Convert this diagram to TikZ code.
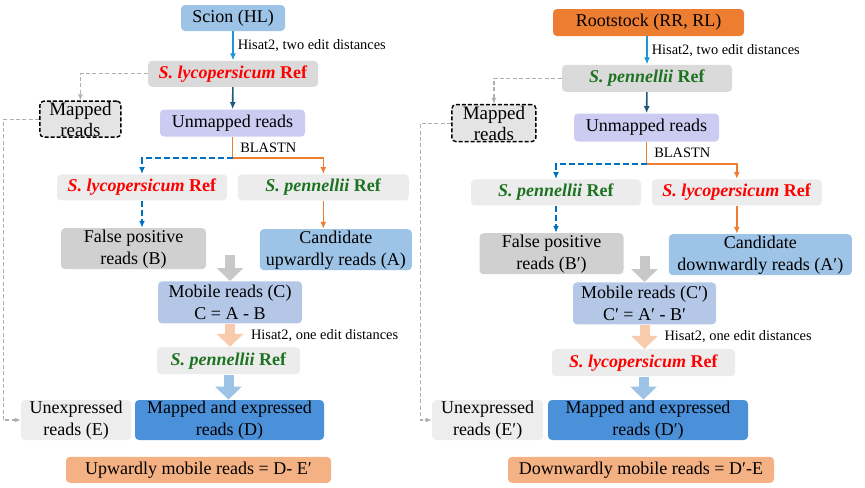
\documentclass[tikz,border=0pt]{standalone}
\usepackage{fontspec}
\setmainfont{Liberation Serif}
\usepackage{tikz}
\usetikzlibrary{positioning,arrows.meta}
\definecolor{lightblue}{RGB}{157,195,230}
\definecolor{rootorange}{RGB}{237,125,49}
\definecolor{refgrey}{RGB}{218,218,218}
\definecolor{refpale}{RGB}{236,236,236}
\definecolor{lavender}{RGB}{204,204,242}
\definecolor{fpgrey}{RGB}{208,208,208}
\definecolor{mobblue}{RGB}{180,199,231}
\definecolor{midblue}{RGB}{75,145,218}
\definecolor{salmon}{RGB}{244,177,131}
\definecolor{palesalmon}{RGB}{248,203,173}
\definecolor{unexgrey}{RGB}{237,237,237}
\definecolor{mapgrey}{RGB}{228,228,228}
\definecolor{arrowgrey}{RGB}{200,200,200}
\definecolor{linegrey}{RGB}{175,175,175}
\definecolor{skyblue}{RGB}{30,150,215}
\definecolor{tealdark}{RGB}{31,90,125}
\definecolor{dashblue}{RGB}{0,112,192}
\definecolor{refred}{RGB}{255,0,0}
\definecolor{refgreen}{RGB}{30,115,35}
\newcommand{\lyco}{\textcolor{refred}{\textbf{\textit{S. lycopersicum}} \textbf{Ref}}}
\newcommand{\penn}{\textcolor{refgreen}{\textbf{\textit{S. pennellii}} \textbf{Ref}}}

\begin{document}
\begin{tikzpicture}[
        font=\fontsize{9}{11}\selectfont,
        box/.style={rectangle, rounded corners=2pt, fill=#1, inner xsep=1pt, inner ysep=0pt, align=center},
        mapdash/.style={draw=black, dash pattern=on 2pt off 1pt, line width=0.7pt, font=\fontsize{9.5}{10.5}\selectfont},
        lbl/.style={font=\fontsize{7.2}{8}\selectfont, inner sep=2pt},
        link/.style={draw=#1, line width=0.8pt, -{Latex[length=3.5pt,width=3pt]}},
        dashline/.style={dash pattern=on 3pt off 1.5pt},
        fat/.style={draw=#1, line width=5pt, -{Triangle[width=13pt,length=6.5pt]}},
        gline/.style={draw=linegrey, line width=0.6pt, dash pattern=on 2pt off 1.2pt, -{Latex[length=3pt,width=2.5pt]}}
    ]
        \useasboundingbox (0,0) rectangle (432.5pt,-243.5pt);

        \node[box=lightblue, minimum width=52pt, minimum height=13pt] (scion) at (116.5pt,-9pt) {Scion (HL)};
        \node[box=refgrey, minimum width=85pt, minimum height=13pt, below=14.5pt of scion] (lyref) {\lyco};
        \node[box=lavender, minimum width=72.5pt, minimum height=13.5pt, below=11pt of lyref, xshift=-0.25pt] (unmapL) {Unmapped reads};
        \node[box=mapgrey, mapdash, minimum width=40.5pt, minimum height=18pt, left=19pt of unmapL, yshift=2pt] (mappedL) {Mapped\\reads};
        \node[box=refpale, minimum width=85pt, minimum height=13pt, below=18.5pt of unmapL, xshift=-45.25pt] (lyrefL) {\lyco};
        \node[box=refpale, minimum width=85.5pt, minimum height=13pt, right=5pt of lyrefL] (pnrefL) {\penn};
        \node[box=fpgrey, minimum width=72.5pt, minimum height=20.5pt, below=13.5pt of lyrefL, xshift=-4.25pt] (falseL) {False positive\\reads (B)};
        \node[box=lightblue, minimum width=76pt, minimum height=20.5pt, below=14pt of pnrefL, xshift=6.25pt] (candL) {Candidate\\upwardly reads (A)};
        \node[box=mobblue, minimum width=72pt, minimum height=21pt, below=72pt of unmapL, xshift=-1.25pt] (mobileL) {Mobile reads (C)\\C = A - B};
        \node[box=refpale, minimum width=71.5pt, minimum height=13.5pt, below=11.5pt of mobileL, xshift=-0.75pt] (pnrefL2) {\penn};
        \node[box=midblue, minimum width=94.5pt, minimum height=20pt, below=12.5pt of pnrefL2, xshift=0.5pt] (exprL) {Mapped and expressed\\reads (D)};
        \node[box=unexgrey, minimum width=55pt, minimum height=20pt, left=1.5pt of exprL] (unexL) {Unexpressed\\reads (E)};
        \node[box=salmon, minimum width=132.5pt, minimum height=13pt, below=8pt of exprL, xshift=-15.5pt] (upL) {Upwardly mobile reads = D- E′};

        \draw[link=skyblue] (scion) -- node[lbl, right] (hisatL) {Hisat2, two edit distances} (lyref);
        \draw[link=tealdark] (lyref) -- (unmapL);
        \draw[link=rootorange] (unmapL.south) -- node[lbl, right, xshift=1.5pt] (blastL) {BLASTN} ++(0,-10.5pt) -| (pnrefL.north);
        \draw[link=dashblue, dashline] ([yshift=-10.5pt]unmapL.south) -| (lyrefL.north);
        \draw[link=dashblue, dashline] (lyrefL.south) -- (lyrefL.south |- falseL.north);
        \draw[link=rootorange] (pnrefL.south) -- (pnrefL.south |- candL.north);
        \draw[fat=arrowgrey] ([yshift=13pt]mobileL.north) -- (mobileL.north);
        \draw[fat=palesalmon] (mobileL.south) -- node[lbl, right, xshift=6pt] (hisatL2) {Hisat2, one edit distances} (mobileL.south |- pnrefL2.north);
        \draw[fat=lightblue] (pnrefL2.south) -- (pnrefL2.south |- exprL.north);
        \draw[gline] (lyref.west) -| (mappedL.north);
        \draw[gline] (mappedL.west) -- ++(-18pt,0) |- (unexL.west);

        \node[box=rootorange, minimum width=95.5pt, minimum height=13.5pt] (root) at (324.25pt,-11.25pt) {Rootstock (RR, RL)};
        \node[box=refgrey, minimum width=85pt, minimum height=13.5pt, below=14pt of root, xshift=-0.75pt] (pnref) {\penn};
        \node[box=lavender, minimum width=72.5pt, minimum height=14pt, below=10.5pt of pnref, xshift=-0.25pt] (unmapR) {Unmapped reads};
        \node[box=mapgrey, mapdash, minimum width=42pt, minimum height=18.5pt, left=18.5pt of unmapR, yshift=2.25pt] (mappedR) {Mapped\\reads};
        \node[box=refpale, minimum width=85pt, minimum height=13pt, below=18.5pt of unmapR, xshift=-45.25pt] (pnrefR) {\penn};
        \node[box=refpale, minimum width=85pt, minimum height=13pt, right=5pt of pnrefR] (lyrefR) {\lyco};
        \node[box=fpgrey, minimum width=72pt, minimum height=20.5pt, below=13.5pt of pnrefR, xshift=-2.25pt] (falseR) {False positive\\reads (B′)};
        \node[box=lightblue, minimum width=91.5pt, minimum height=20.5pt, below=14pt of lyrefR, xshift=11.75pt] (candR) {Candidate\\downwardly reads (A′)};
        \node[box=mobblue, minimum width=71.5pt, minimum height=21pt, below=70pt of unmapR, xshift=-1pt] (mobileR) {Mobile reads (C′)\\C′ = A′ - B′};
        \node[box=refpale, minimum width=91.5pt, minimum height=13.5pt, below=12pt of mobileR, xshift=-0.5pt] (lyrefR2) {\lyco};
        \node[box=midblue, minimum width=100pt, minimum height=20pt, below=11.5pt of lyrefR2, xshift=2.25pt] (exprR) {Mapped and expressed\\reads (D′)};
        \node[box=unexgrey, minimum width=55.5pt, minimum height=20pt, left=2pt of exprR] (unexR) {Unexpressed\\reads (E′)};
        \node[box=salmon, minimum width=133pt, minimum height=13pt, below=8pt of exprR, xshift=-3.5pt] (downR) {Downwardly mobile reads = D′-E};

        \draw[link=skyblue] (root.south -| pnref.north) -- node[lbl, right] (hisatR) {Hisat2, two edit distances} (pnref.north);
        \draw[link=tealdark] (pnref) -- (unmapR);
        \draw[link=rootorange] (unmapR.south) -- node[lbl, right, xshift=1.5pt] (blastR) {BLASTN} ++(0,-11pt) -| (lyrefR.north);
        \draw[link=dashblue, dashline] ([yshift=-11pt]unmapR.south) -| (pnrefR.north);
        \draw[link=dashblue, dashline] (pnrefR.south) -- (pnrefR.south |- falseR.north);
        \draw[link=rootorange] (lyrefR.south) -- (lyrefR.south |- candR.north);
        \draw[fat=arrowgrey] ([yshift=13pt]mobileR.north) -- (mobileR.north);
        \draw[fat=palesalmon] (mobileR.south) -- node[lbl, right, xshift=5.5pt] (hisatR2) {Hisat2, one edit distances} (mobileR.south |- lyrefR2.north);
        \draw[fat=lightblue] (lyrefR2.south) -- (lyrefR2.south |- exprR.north);
        \draw[gline] (pnref.west) -| (mappedR.north);
        \draw[gline] (mappedR.west) -- ++(-15.5pt,0) |- (unexR.west);
    \end{tikzpicture}
\end{document}
